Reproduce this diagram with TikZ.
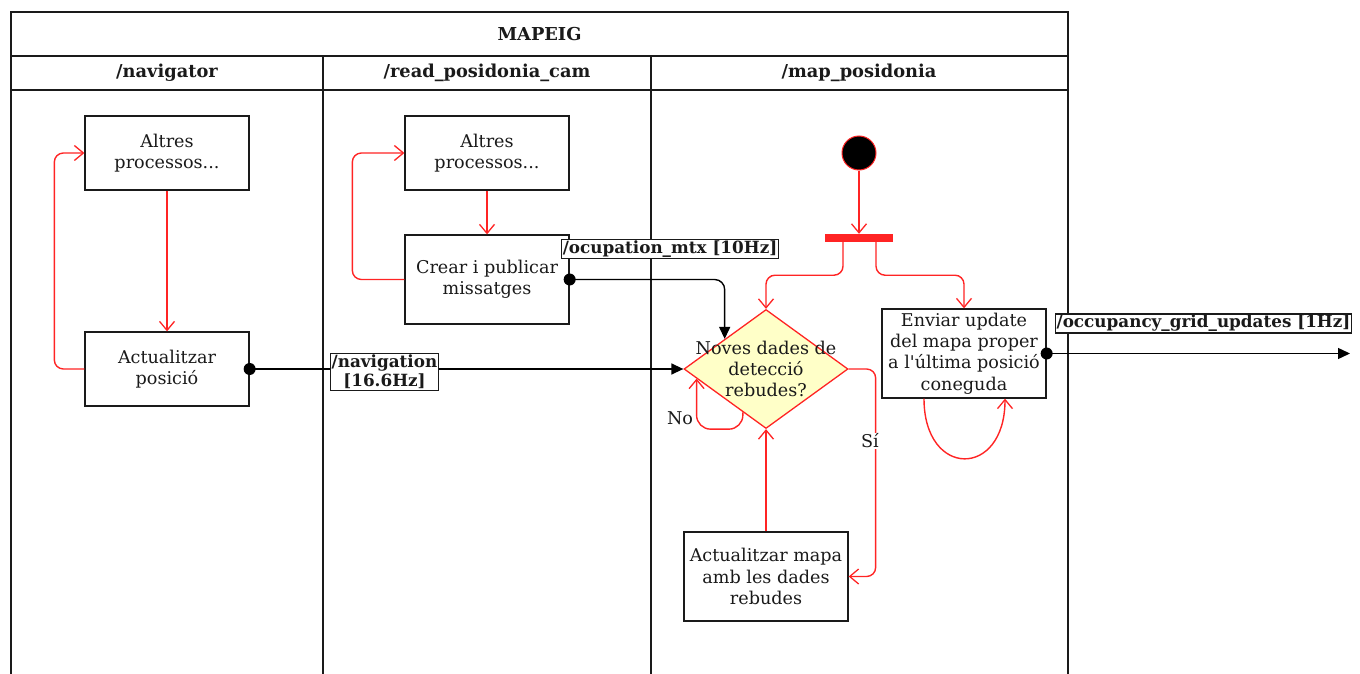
\documentclass[tikz,border=0pt]{standalone}
\usepackage{fontspec}
\setmainfont{DejaVu Serif}[Ligatures=TeXOff]
\usetikzlibrary{arrows.meta,shapes.geometric,calc}
\definecolor{flowred}{HTML}{FF2424}
\definecolor{decfill}{HTML}{FFFFC8}
\definecolor{ink}{HTML}{1A1A1A}
\begin{document}
\begin{tikzpicture}[x=1pt,y=-1pt,
  every node/.style={font=\fontsize{17.6}{21.3}\selectfont, text=ink},
  frame/.style={line width=1.4pt, draw=ink},
  task/.style={draw=ink, line width=1.3pt, fill=white, minimum width=164pt, align=center, inner sep=0pt},
  flow/.style={draw=flowred, line width=1.4pt, -{Straight Barb[length=9pt,width=15pt,line width=1.3pt]}, rounded corners=9pt},
  msgline/.style={draw=black, line width=1.4pt, -{Triangle[length=12pt,width=11pt]}, rounded corners=10pt},
  topic/.style={draw=ink, fill=white, line width=1.2pt, inner sep=1.2pt, font=\bfseries\fontsize{16.8}{19}\selectfont, align=center},
  head/.style={font=\bfseries\fontsize{17.8}{19}\selectfont}
]
\useasboundingbox (0,0) rectangle (1360,674);

% swimlane frame
\draw[frame] (11,674) -- (11,12) -- (1068,12) -- (1068,674);
\draw[frame] (11,56) -- (1068,56);
\draw[frame] (11,90) -- (1068,90);
\draw[frame] (323,56) -- (323,674);
\draw[frame] (651,56) -- (651,674);

\node[head] (title) at (539.5,34) {MAPEIG};
\node[head] (lane1) at (167,73) {/navigator};
\node[head] (lane2) at (487,73) {/read\_posidonia\_cam};
\node[head] (lane3) at (859,73) {/map\_posidonia};

% /navigator
\node[task, minimum height=74pt] (navother) at (167,153) {Altres\\processos...};
\node[task, minimum height=74pt] (navupd) at (167,369) {Actualitzar\\posició};

% /read_posidonia_cam
\node[task, minimum height=74pt] (camother) at (487,153) {Altres\\processos...};
\node[task, minimum height=89pt] (campub) at (487,279.5) {Crear i publicar\\missatges};

% /map_posidonia
\node[circle, fill=black, draw=flowred, line width=1pt, minimum size=34pt, inner sep=0pt] (start) at (859,153) {};
\node[fill=flowred, minimum width=68pt, minimum height=8pt, inner sep=0pt] (fork) at (859,238) {};
\node[diamond, draw=flowred, fill=decfill, line width=1.3pt, minimum width=164pt, minimum height=119pt, inner sep=0pt] (dec) at (766,369) {};
\node[align=center] (dectext) at (766,369) {Noves dades de\\detecció\\rebudes?};
\node[task, minimum height=89pt] (send) at (964,353.5) {Enviar update\\del mapa proper\\a l'última posició\\coneguda};
\node[task, minimum height=89pt] (mapupd) at (766,576.5) {Actualitzar mapa\\amb les dades\\rebudes};

% control flow
\draw[flow] (navother) -- (navupd);
\draw[flow] (navupd.west) -- ++(-30,0) |- (navother.west);
\draw[flow] (camother) -- (campub);
\draw[flow] (campub.west) -- ++(-52,0) |- (camother.west);
\draw[flow] (start) -- (fork);
\draw[flow] ([xshift=-16pt]fork.south) -- ++(0,33) -| (dec.north);
\draw[flow] ([xshift=17pt]fork.south) -- ++(0,33) -| (send.north);
\draw[flow] (dec.east) -- ++(27,0) |- (mapupd.east);
\node[fill=white, inner sep=1pt] (yes) at (870,441) {Sí};
\draw[flow] (mapupd.north) -- (dec.south);
\coordinate (noout) at ($(dec.west)!0.72!(dec.south)$);
\coordinate (noin) at ($(dec.west)!0.16!(dec.south)$);
\draw[flow, rounded corners=14pt] (noout) -- (noout |- dec.south) -- (noin |- dec.south) -- (noin);
\node (no) at (680,418) {No};
\draw[flow] ([xshift=-40pt]send.south) .. controls +(0,80) and +(0,80) .. ([xshift=41pt]send.south);

% topics
\coordinate (outside) at (1350,353.5);
\draw[msgline] (navupd.east) -- (dec.west);
\fill[black] (navupd.east) circle (6pt);
\draw[msgline] (campub.east) -| (dec.north west);
\fill[black] (campub.east) circle (6pt);
\draw[msgline] (send.east) -- (outside);
\fill[black] (send.east) circle (6pt);

\node[topic] (navlbl) at (384.5,372) {/navigation\\{}[16.6Hz]};
\node[topic] (ocplbl) at (670,249) {/ocupation\_mtx [10Hz]};
\node[topic] (occlbl) at (1203.5,323.5) {/occupancy\_grid\_updates [1Hz]};
\end{tikzpicture}
\end{document}
